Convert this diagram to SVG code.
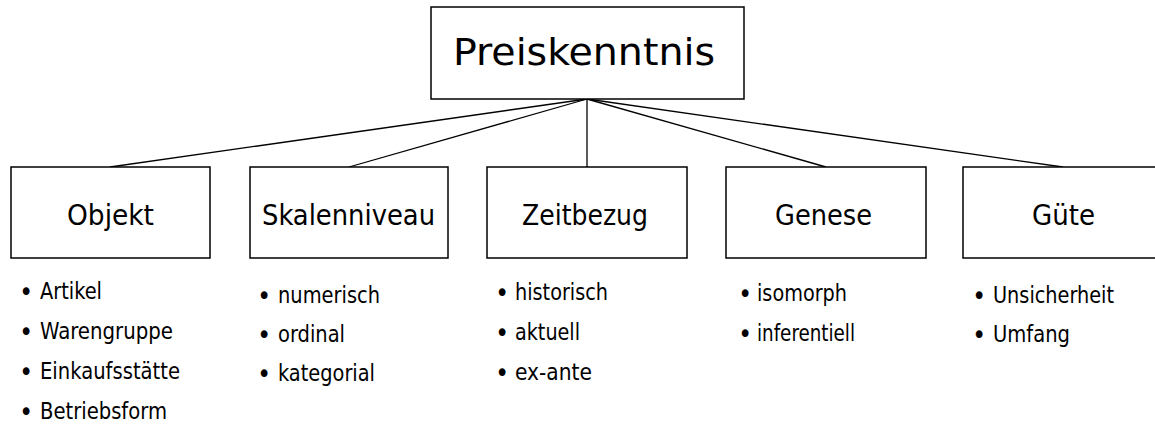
<svg xmlns="http://www.w3.org/2000/svg" width="1155" height="428" viewBox="0 0 1155 428">
  <style>
    .box { fill: #ffffff; stroke: #000000; stroke-width: 1.5; }
    .link { stroke: #000000; stroke-width: 1.3; fill: none; }
    text { font-family: "DejaVu Sans Condensed", "DejaVu Sans", sans-serif; fill: #000000; }
    .title { font-size: 38px; }
    .label { font-size: 28px; }
    .item { font-size: 23px; }
    .dot { font-size: 26px; }
  </style>
  <rect width="1155" height="428" fill="#ffffff"/>

  <!-- connectors from the root to each category -->
  <g id="connectors">
    <line class="link" x1="587" y1="99" x2="110" y2="167"/>
    <line class="link" x1="587" y1="99" x2="349" y2="167"/>
    <line class="link" x1="587" y1="99" x2="587" y2="167"/>
    <line class="link" x1="587" y1="99" x2="826" y2="167"/>
    <line class="link" x1="587" y1="99" x2="1063" y2="167"/>
  </g>

  <g id="preiskenntnis">
    <rect class="box" x="431" y="7" width="313" height="92"/>
    <text class="title" x="453" y="65" textLength="262" lengthAdjust="spacingAndGlyphs">Preiskenntnis</text>
  </g>

  <g id="objekt">
    <rect class="box" x="11" y="167" width="199" height="91"/>
    <text class="label" x="67" y="225" textLength="87" lengthAdjust="spacingAndGlyphs">Objekt</text>
    <text class="dot" x="19.3" y="301">•</text>
    <text class="item" x="40" y="299" textLength="62" lengthAdjust="spacingAndGlyphs">Artikel</text>
    <text class="dot" x="19.3" y="341">•</text>
    <text class="item" x="40" y="339" textLength="133" lengthAdjust="spacingAndGlyphs">Warengruppe</text>
    <text class="dot" x="19.3" y="381">•</text>
    <text class="item" x="40" y="379" textLength="140" lengthAdjust="spacingAndGlyphs">Einkaufsstätte</text>
    <text class="dot" x="19.3" y="421">•</text>
    <text class="item" x="40" y="419" textLength="127" lengthAdjust="spacingAndGlyphs">Betriebsform</text>
  </g>

  <g id="skalenniveau">
    <rect class="box" x="250" y="167" width="198" height="91"/>
    <text class="label" x="262" y="225" textLength="173" lengthAdjust="spacingAndGlyphs">Skalenniveau</text>
    <text class="dot" x="257.3" y="305">•</text>
    <text class="item" x="278" y="303" textLength="102" lengthAdjust="spacingAndGlyphs">numerisch</text>
    <text class="dot" x="257.3" y="344">•</text>
    <text class="item" x="278" y="342" textLength="67" lengthAdjust="spacingAndGlyphs">ordinal</text>
    <text class="dot" x="257.3" y="383">•</text>
    <text class="item" x="278" y="381" textLength="97" lengthAdjust="spacingAndGlyphs">kategorial</text>
  </g>

  <g id="zeitbezug">
    <rect class="box" x="487" y="167" width="200" height="91"/>
    <text class="label" x="522" y="225" textLength="126" lengthAdjust="spacingAndGlyphs">Zeitbezug</text>
    <text class="dot" x="495.3" y="302">•</text>
    <text class="item" x="515" y="300" textLength="93" lengthAdjust="spacingAndGlyphs">historisch</text>
    <text class="dot" x="495.3" y="342">•</text>
    <text class="item" x="515" y="340" textLength="65" lengthAdjust="spacingAndGlyphs">aktuell</text>
    <text class="dot" x="495.3" y="382">•</text>
    <text class="item" x="515" y="380" textLength="77" lengthAdjust="spacingAndGlyphs">ex-ante</text>
  </g>

  <g id="genese">
    <rect class="box" x="726" y="167" width="200" height="91"/>
    <text class="label" x="775" y="225" textLength="97" lengthAdjust="spacingAndGlyphs">Genese</text>
    <text class="dot" x="738.3" y="303">•</text>
    <text class="item" x="757" y="301" textLength="90" lengthAdjust="spacingAndGlyphs">isomorph</text>
    <text class="dot" x="738.3" y="343">•</text>
    <text class="item" x="757" y="341" textLength="98" lengthAdjust="spacingAndGlyphs">inferentiell</text>
  </g>

  <g id="guete">
    <rect class="box" x="963" y="167" width="200" height="91"/>
    <text class="label" x="1032" y="225" textLength="63" lengthAdjust="spacingAndGlyphs">Güte</text>
    <text class="dot" x="972.3" y="305">•</text>
    <text class="item" x="993" y="303" textLength="121" lengthAdjust="spacingAndGlyphs">Unsicherheit</text>
    <text class="dot" x="972.3" y="344">•</text>
    <text class="item" x="993" y="342" textLength="77" lengthAdjust="spacingAndGlyphs">Umfang</text>
  </g>
</svg>
